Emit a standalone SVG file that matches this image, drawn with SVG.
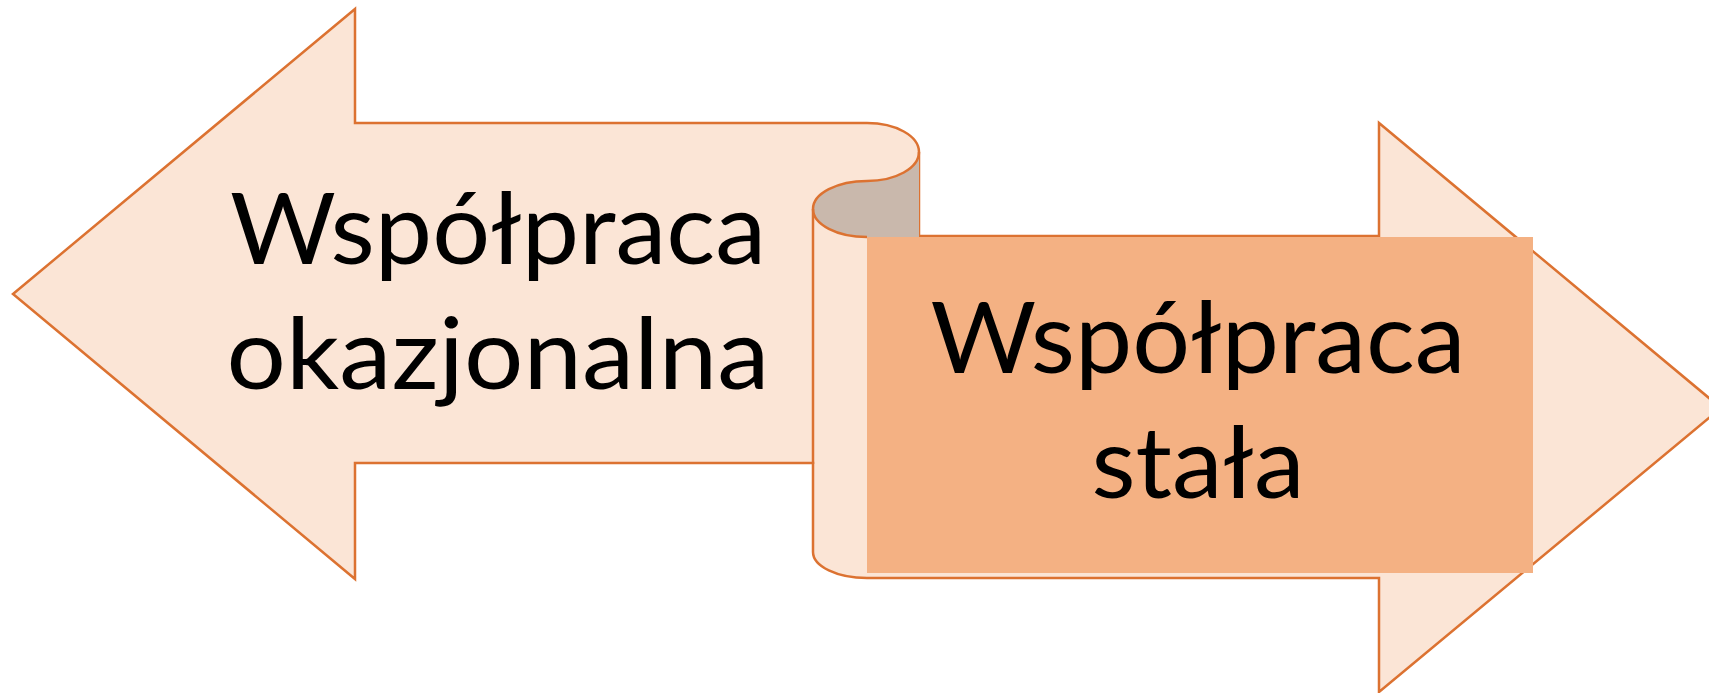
<svg xmlns="http://www.w3.org/2000/svg" width="1709" height="693" viewBox="0 0 1709 693">
  <style>
    .outline { fill: #FBE5D6; stroke: #DC7231; stroke-width: 2.5; stroke-linejoin: miter; }
    .line { fill: none; stroke: #DC7231; stroke-width: 2.5; }
    .curl { fill: #C9B8AC; stroke: none; }
    .lbl { font-family: Lato, "Open Sans", "Liberation Sans", sans-serif; font-size: 99px; fill: #000000; text-anchor: middle; }
  </style>
  <rect x="0" y="0" width="1709" height="693" fill="#FFFFFF"/>
  <g id="shape">
    <path class="outline" d="M 13,294 L 355,9 L 355,123 L 867,123 A 52,29 0 0 1 919,152 L 919,236 L 1379,236 L 1379,123 L 1721,408 L 1379,692 L 1379,578 L 867,578 A 54,26 0 0 1 813,552 L 813,463 L 355,463 L 355,579 Z"/>
    <path class="curl" d="M 919,152 A 52,29 0 0 1 867,181 A 54,28 0 0 0 867,237 L 919,237 Z"/>
    <path class="line" d="M 919,152 A 52,29 0 0 1 867,181 A 54,28 0 0 0 867,237"/>
    <path class="line" d="M 813,209 L 813,464"/>
  </g>
  <g id="node-left">
    <text class="lbl" x="498" y="264" textLength="536" lengthAdjust="spacingAndGlyphs">Współpraca</text>
    <text class="lbl" x="498" y="389" textLength="543" lengthAdjust="spacingAndGlyphs">okazjonalna</text>
  </g>
  <g id="node-right">
    <rect x="867" y="237" width="666" height="336" fill="#F4B183"/>
    <text class="lbl" x="1198" y="373" textLength="535" lengthAdjust="spacingAndGlyphs">Współpraca</text>
    <text class="lbl" x="1198" y="498" textLength="213" lengthAdjust="spacingAndGlyphs">stała</text>
  </g>
</svg>
